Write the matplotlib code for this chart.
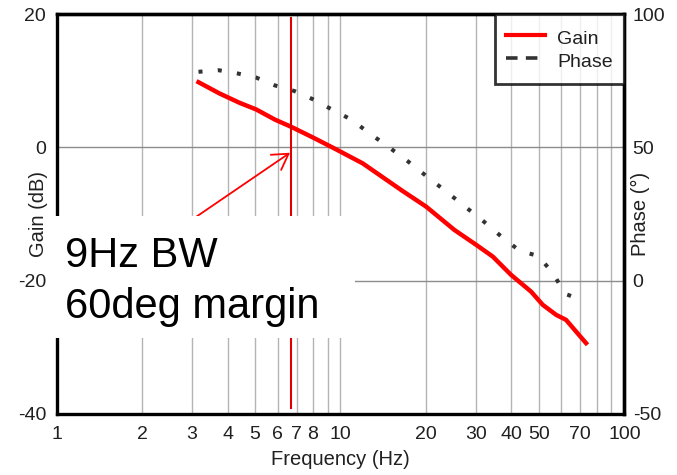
import matplotlib
matplotlib.use('Agg')
import matplotlib.pyplot as plt
from matplotlib.lines import Line2D
from matplotlib.patches import Rectangle
from matplotlib.ticker import FixedLocator, NullLocator
import numpy as np

plt.rcParams['font.family'] = ['Liberation Sans', 'DejaVu Sans']
plt.rcParams['axes.unicode_minus'] = False

# gain curve (dB)
gain_freq = [3.16, 3.75, 4.41, 5.05, 5.86, 6.70, 7.99, 9.66, 11.98, 16.36, 20.04,
             25.2, 30.1, 34.4, 39.9, 46.9, 51.6, 57.5, 62.3, 73.3]
gain_db = [9.8, 8.1, 6.7, 5.7, 4.2, 3.1, 1.5, -0.3, -2.4, -6.4, -8.9,
           -12.4, -14.65, -16.4, -19.15, -21.65, -23.65, -25.15, -25.9, -29.4]

# phase curve (deg)
phase_freq = [3.16, 3.72, 4.33, 5.03, 5.87, 6.87, 7.99, 9.31, 10.9, 12.65, 14.76,
              17.17, 20.04, 23.4, 27.3, 31.7, 36.9, 43.0, 49.7, 56.4, 61.6, 71.1]
phase_deg = [78.4, 79.0, 77.8, 76.3, 73.3, 71.2, 68.1, 64.3, 60.5, 55.3, 50.2,
             45.0, 39.3, 33.7, 28.0, 22.5, 16.5, 11.0, 9.3, 2.4, -4.9, -7.4]

xticks = [1, 2, 3, 4, 5, 6, 7, 8, 9, 10, 20, 30, 40, 50, 60, 70, 80, 90, 100]
xticklabels = ['1', '2', '3', '4', '5', '6', '7', '8', '', '10', '20', '30', '40',
               '50', '', '70', '', '', '100']
gain_ticks = [-40, -20, 0, 20]
phase_ticks = [-50, 0, 50, 100]

bw_marker_hz = 6.7
arrow_tip = (6.64, -0.8)
arrow_tail = (2.49, -13.2)
note_lines = ['9Hz BW', '60deg margin']

fig = plt.figure(figsize=(6.77, 4.75), dpi=100)
ax = fig.add_axes([0.0837, 0.1291, 0.8385, 0.8408])
ax2 = ax.twinx()

ax.set_xscale('log')
ax.set_xlim(1, 100)
ax.set_ylim(-40, 20)
ax2.set_ylim(-50, 100)

ax.xaxis.set_major_locator(FixedLocator(xticks))
ax.xaxis.set_minor_locator(NullLocator())
ax.set_xticklabels(xticklabels)
ax.set_yticks(gain_ticks)
ax2.set_yticks(phase_ticks)

tick_col = '#202020'
ax.tick_params(axis='x', length=0, pad=9, labelsize=14, colors=tick_col)
ax.tick_params(axis='y', length=0, pad=7.5, labelsize=14, colors=tick_col)
ax2.tick_params(axis='y', length=0, pad=6, labelsize=14, colors=tick_col)

# grid
for f in xticks[1:-1]:
    ax.axvline(f, color='#b4b4b4', lw=1.0, zorder=0)
for g in gain_ticks[1:-1]:
    ax.axhline(g, color='#8c8c8c', lw=1.0, zorder=0)

for a in (ax, ax2):
    for s in a.spines.values():
        s.set_linewidth(2.4)
        s.set_color('black')
ax2.spines['left'].set_visible(False)
ax2.spines['bottom'].set_visible(False)

ax.set_xlabel('Frequency (Hz)', fontsize=14.5, color=tick_col)
ax.xaxis.set_label_coords(0.5, -0.09)
ax.set_ylabel('Gain (dB)', fontsize=14.5, color=tick_col)
ax.yaxis.set_label_coords(-0.016, 0.5)
ax2.set_ylabel('Phase (°)', fontsize=14.5, color=tick_col)
ax2.yaxis.set_label_coords(1.011, 0.5)

# curves
ax.plot(gain_freq, gain_db, color='#ff0000', lw=3.2, zorder=3)
ax2.plot(phase_freq, phase_deg, color='#333333', lw=2.9,
         linestyle=(0, (1, 3.8)), zorder=3)

# bandwidth marker and arrow
ax.axvline(bw_marker_hz, ymin=0.015, ymax=0.99, color='#e00000', lw=1.5, zorder=4)
ax.annotate('', xy=arrow_tip, xytext=arrow_tail,
            arrowprops=dict(arrowstyle='->,head_length=0.55,head_width=0.33',
                            color='#ff0000', lw=1.3, mutation_scale=20,
                            shrinkA=0, shrinkB=0), zorder=5)

# legend
handles = [Line2D([], [], color='#ff0000', lw=3),
           Line2D([], [], color='#333333', lw=2.6, linestyle=(0, (3.2, 2.3)))]
leg = ax2.legend(handles, ['Gain', 'Phase'], loc='upper right', borderaxespad=0,
                 fontsize=14, frameon=True, fancybox=False, handlelength=2.0,
                 handleheight=1.4, handletextpad=0.6, borderpad=0.6,
                 labelspacing=0.05)
leg.get_frame().set_edgecolor('black')
leg.get_frame().set_linewidth(2.0)
for t in leg.get_texts():
    t.set_color(tick_col)

# note box on top of everything
fig.patches.append(Rectangle((0.0694, 0.2884), 0.455, 0.2568, transform=fig.transFigure,
                             facecolor='white', edgecolor='none', zorder=5))
fig.text(0.096, 0.4375, note_lines[0], fontsize=30, color='black', va='baseline', zorder=6)
fig.text(0.096, 0.3299, note_lines[1], fontsize=30, color='black', va='baseline', zorder=6)

fig.savefig('out.png', dpi=100)
